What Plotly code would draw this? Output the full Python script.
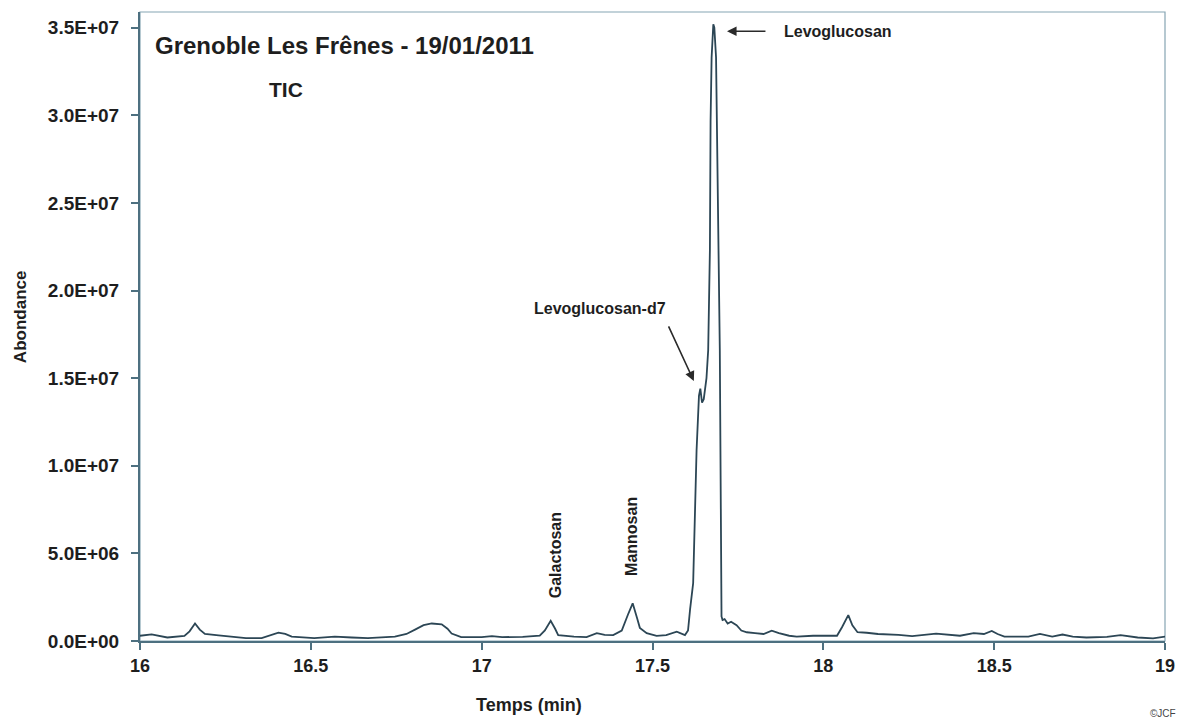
import plotly.graph_objects as go

# ---- data ----
temps = [16.000, 16.034, 16.080, 16.130, 16.145, 16.161, 16.175, 16.190, 16.230, 16.310,
         16.356, 16.380, 16.405, 16.425, 16.444, 16.510, 16.570, 16.620, 16.667, 16.746,
         16.780, 16.805, 16.830, 16.854, 16.883, 16.900, 16.912, 16.940, 17.000, 17.030,
         17.060, 17.120, 17.170, 17.185, 17.202, 17.215, 17.224, 17.270, 17.307, 17.337,
         17.360, 17.385, 17.410, 17.428, 17.442, 17.455, 17.463, 17.483, 17.512, 17.540,
         17.571, 17.595, 17.604, 17.610, 17.619, 17.629, 17.636, 17.640, 17.645, 17.650,
         17.653, 17.658, 17.663, 17.668, 17.670, 17.673, 17.678, 17.681, 17.686, 17.690,
         17.693, 17.697, 17.702, 17.705, 17.711, 17.720, 17.730, 17.746, 17.760, 17.776,
         17.800, 17.825, 17.849, 17.870, 17.900, 17.922, 17.970, 18.040, 18.055, 18.073,
         18.085, 18.100, 18.127, 18.160, 18.220, 18.260, 18.330, 18.400, 18.440, 18.470,
         18.493, 18.510, 18.530, 18.600, 18.634, 18.670, 18.700, 18.730, 18.770, 18.830,
         18.870, 18.920, 18.965, 19.000]
abondance = [3.0e5, 3.8e5, 2.0e5, 2.9e5, 5.5e5, 1.0e6, 6.5e5, 4.0e5, 3.2e5, 1.6e5,
             1.6e5, 3.2e5, 4.8e5, 4.0e5, 2.5e5, 1.6e5, 2.5e5, 2.0e5, 1.6e5, 2.5e5,
             4.0e5, 6.5e5, 9.0e5, 1.0e6, 9.5e5, 7.0e5, 4.3e5, 2.2e5, 2.2e5, 2.8e5,
             2.2e5, 2.4e5, 3.0e5, 6.0e5, 1.15e6, 7.0e5, 3.4e5, 2.5e5, 2.2e5, 4.5e5,
             3.5e5, 3.4e5, 6.0e5, 1.5e6, 2.15e6, 1.3e6, 7.5e5, 4.5e5, 2.9e5, 3.4e5,
             5.3e5, 3.4e5, 6.0e5, 1.8e6, 3.3e6, 1.09e7, 1.40e7, 1.44e7, 1.36e7, 1.38e7,
             1.43e7, 1.50e7, 1.66e7, 2.23e7, 2.97e7, 3.33e7, 3.52e7, 3.50e7, 3.33e7, 2.75e7,
             2.23e7, 1.66e7, 1.4e6, 1.2e6, 1.25e6, 1.0e6, 1.1e6, 9.0e5, 6.0e5, 5.0e5,
             4.5e5, 4.0e5, 5.9e5, 4.5e5, 3.0e5, 2.5e5, 3.0e5, 3.0e5, 8.0e5, 1.48e6,
             9.0e5, 5.0e5, 4.7e5, 4.0e5, 3.5e5, 2.8e5, 4.2e5, 3.0e5, 4.5e5, 4.0e5,
             5.7e5, 4.0e5, 2.5e5, 2.5e5, 4.0e5, 2.5e5, 3.7e5, 2.5e5, 2.0e5, 2.3e5,
             3.3e5, 2.0e5, 1.5e5, 2.5e5]

x_tick_vals = [16, 16.5, 17, 17.5, 18, 18.5, 19]
x_tick_text = ["16", "16.5", "17", "17.5", "18", "18.5", "19"]
y_tick_vals = [0, 5e6, 1e7, 1.5e7, 2e7, 2.5e7, 3e7, 3.5e7]
y_tick_text = ["0.0E+00", "5.0E+06", "1.0E+07", "1.5E+07", "2.0E+07", "2.5E+07", "3.0E+07", "3.5E+07"]

titre = "Grenoble Les Frênes - 19/01/2011"
sous_titre = "TIC"
pics = ["Galactosan", "Mannosan", "Levoglucosan-d7", "Levoglucosan"]

FONT = "Liberation Sans, Arial, sans-serif"
TXT = "#1e1e1e"
LINE = "#2c4655"
AX = "#4d7080"

fig = go.Figure()
fig.add_trace(go.Scatter(x=temps, y=abondance, mode="lines",
                         line=dict(color=LINE, width=1.8), hoverinfo="x+y"))

# the page body has an 8px margin: figure shrunk so the plot area lands where the reference has it
fig.update_layout(
    width=1184, height=714,
    margin=dict(l=132, r=27, t=4, b=81),
    paper_bgcolor="white", plot_bgcolor="white",
    showlegend=False,
    font=dict(family=FONT, color=TXT),
)
fig.update_xaxes(range=[16, 19], tickvals=x_tick_vals, ticktext=x_tick_text,
                 showgrid=False, zeroline=False, showline=True, linecolor=AX, linewidth=2,
                 ticks="outside", ticklen=7, tickcolor=AX, tickwidth=1.5,
                 tickfont=dict(size=18, family=FONT, color=TXT, weight="bold"))
fig.update_yaxes(range=[0, 3.59e7], tickvals=y_tick_vals, ticktext=y_tick_text,
                 showgrid=False, zeroline=False, showline=True, linecolor=AX, linewidth=2,
                 ticks="outside", ticklen=7, tickcolor=AX, tickwidth=1.5,
                 ticklabelstandoff=8,
                 tickfont=dict(size=19, family=FONT, color=TXT, weight="bold"))

# light border on top/right
fig.add_shape(type="rect", xref="paper", yref="paper", x0=0, y0=0, x1=1, y1=1,
              line=dict(color="#86a5b3", width=1.2), layer="below")

bold = lambda s: dict(size=s, family=FONT, color=TXT, weight="bold")

fig.add_annotation(x=16.038, y=3.40e7, xref="x", yref="y", text=titre, showarrow=False,
                   xanchor="left", yanchor="middle", font=bold(24))
fig.add_annotation(x=16.372, y=3.145e7, xref="x", yref="y", text=sous_titre, showarrow=False,
                   xanchor="left", yanchor="middle", font=bold(21))

# rotated peak labels
fig.add_annotation(x=17.215, y=4.9e6, text=pics[0], showarrow=False, textangle=-90,
                   xanchor="center", yanchor="middle", font=bold(16))
fig.add_annotation(x=17.44, y=5.94e6, text=pics[1], showarrow=False, textangle=-90,
                   xanchor="center", yanchor="middle", font=bold(16))

# Levoglucosan-d7 with arrow
fig.add_annotation(x=17.346, y=1.90e7, text=pics[2], showarrow=False,
                   xanchor="center", yanchor="middle", font=bold(16))
fig.add_annotation(x=17.621, y=1.484e7, ax=17.545, ay=1.804e7, axref="x", ayref="y",
                   text="", showarrow=True, arrowhead=2, arrowsize=1.2, arrowwidth=1.6,
                   arrowcolor="#2a2a2a")
# Levoglucosan with arrow
fig.add_annotation(x=17.879, y=3.48e7, text=pics[3], showarrow=False,
                   xanchor="left", yanchor="middle", font=bold(16))
fig.add_annotation(x=17.718, y=3.48e7, ax=17.835, ay=3.48e7, axref="x", ayref="y",
                   text="", showarrow=True, arrowhead=2, arrowsize=1.2, arrowwidth=1.6,
                   arrowcolor="#2a2a2a")

# axis titles
fig.add_annotation(x=-0.117, y=0.515, xref="paper", yref="paper", text="Abondance",
                   showarrow=False, textangle=-90, xanchor="center", yanchor="middle",
                   font=bold(17))
fig.add_annotation(x=0.3795, y=-0.1017, xref="paper", yref="paper", text="Temps (min)",
                   showarrow=False, xanchor="center", yanchor="middle", font=bold(18))
fig.add_annotation(x=0.983, y=-0.116, xref="paper", yref="paper", text="©JCF",
                   showarrow=False, xanchor="left", yanchor="middle",
                   font=dict(size=10, family=FONT, color="#444444"))

fig.write_html("out.html")
